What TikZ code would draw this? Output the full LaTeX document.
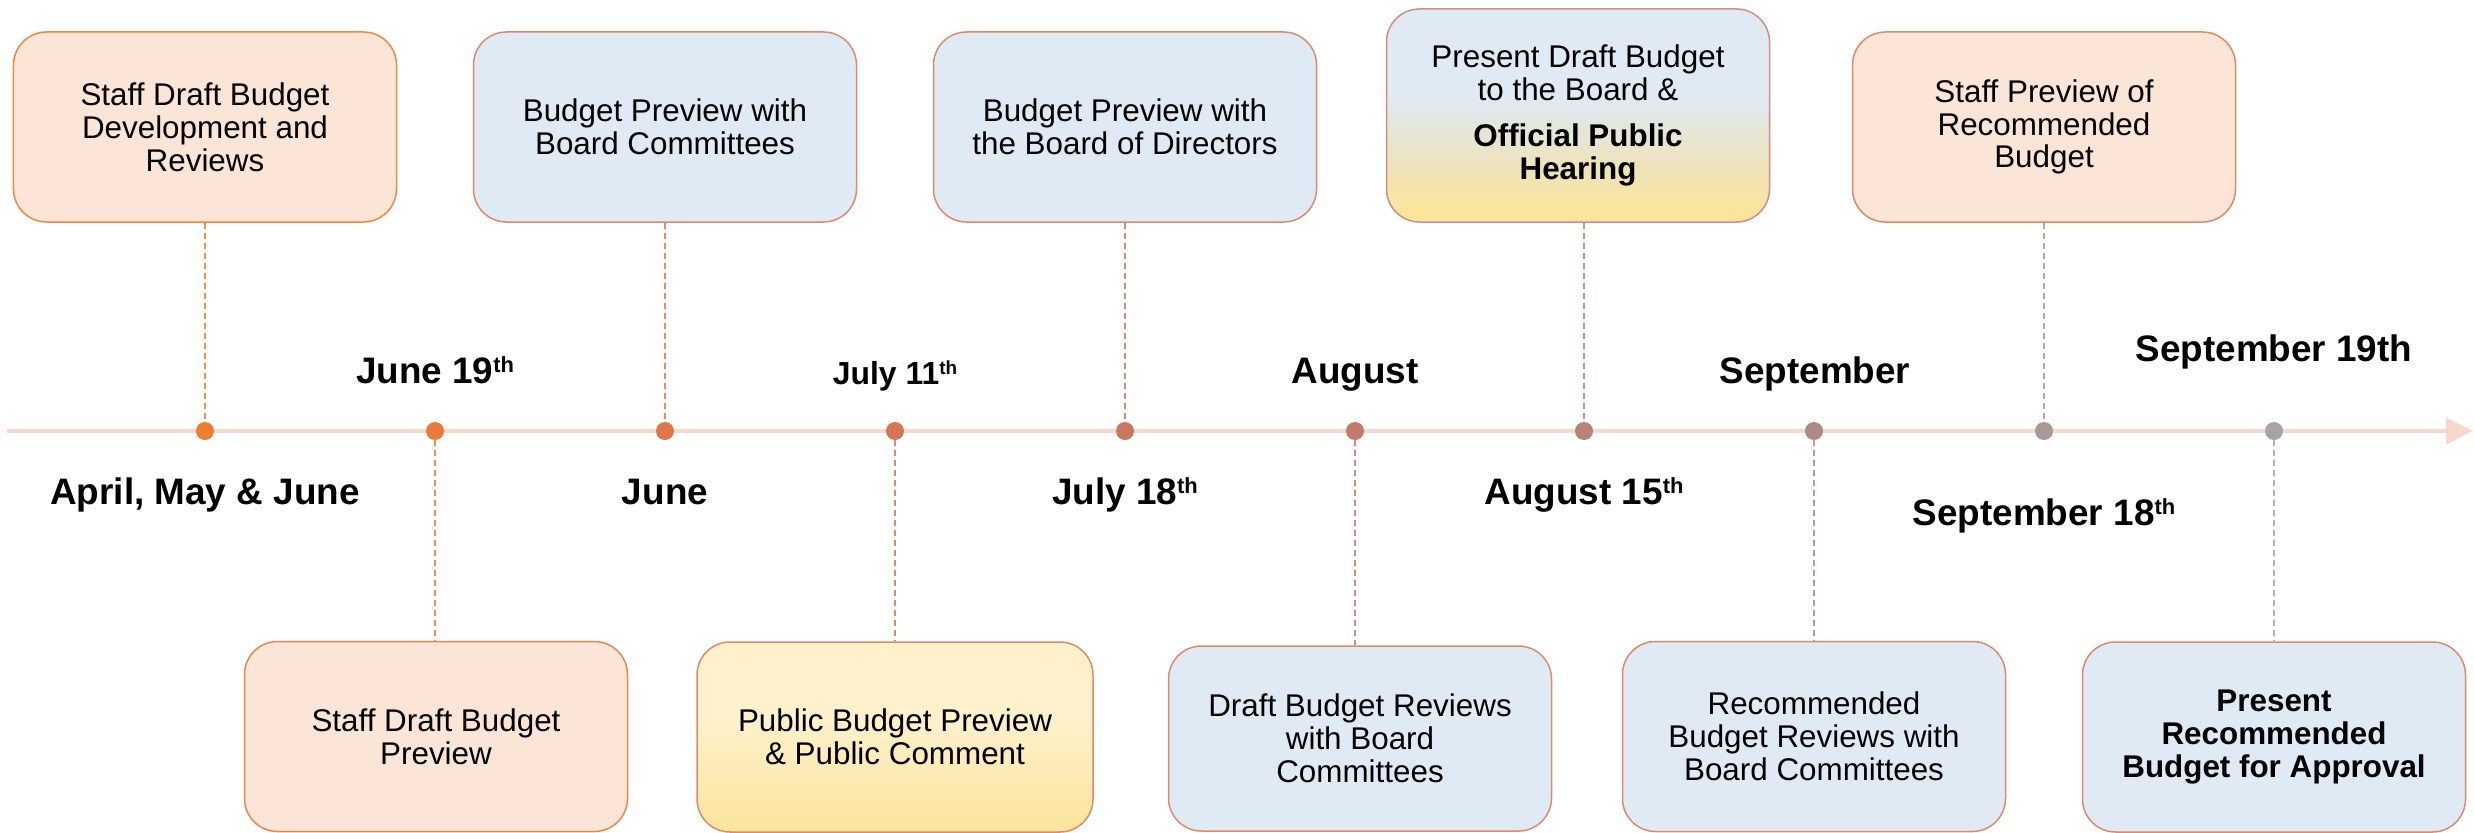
\documentclass[tikz,border=0pt]{standalone}
\usepackage{fontspec}
\setmainfont{Liberation Sans}
\usetikzlibrary{arrows.meta}
\definecolor{peachfill}{HTML}{FAE5D7}
\definecolor{bluefill}{HTML}{DFEAF5}
\definecolor{yeltop}{HTML}{FFF1CC}
\definecolor{yelbot}{HTML}{FBE49C}
\definecolor{mixA}{HTML}{E6E5D8}
\definecolor{mixB}{HTML}{EFE3B8}
\definecolor{linecol}{HTML}{F8D8CC}
\definecolor{bdA}{HTML}{EE8843}
\definecolor{bdB}{HTML}{E9864E}
\definecolor{bdC}{HTML}{DE8A6A}
\definecolor{bdD}{HTML}{D28C80}
\definecolor{dA}{HTML}{ED7D31}
\definecolor{dB}{HTML}{E97A3A}
\definecolor{dC}{HTML}{DF774A}
\definecolor{dD}{HTML}{D57555}
\definecolor{dE}{HTML}{CB775E}
\definecolor{dF}{HTML}{C27A6C}
\definecolor{dG}{HTML}{B88278}
\definecolor{dH}{HTML}{B08884}
\definecolor{dI}{HTML}{A99996}
\definecolor{dJ}{HTML}{A5A5A5}
\pgfdeclareverticalshading{bluyel}{100bp}{color(0bp)=(yelbot); color(25bp)=(yelbot); color(28bp)=(yelbot); color(37bp)=(mixB); color(46.5bp)=(mixA); color(54bp)=(bluefill); color(100bp)=(bluefill)}
\pgfdeclareverticalshading{yelgrad}{100bp}{color(0bp)=(yelbot); color(25bp)=(yelbot); color(55bp)=(yeltop); color(100bp)=(yeltop)}
\newcommand{\supx}[1]{\raisebox{11bp}{\fontsize{22}{22}\selectfont #1}}
\newcommand{\supy}[1]{\raisebox{9.5bp}{\fontsize{19}{19}\selectfont #1}}
\tikzset{
  evbox/.style={draw, line width=1.5bp, rounded corners=33bp, minimum width=383bp,
    minimum height=190bp, align=center, inner sep=0pt,
    font=\fontsize{31.5}{33}\selectfont},
  peachbox/.style={evbox, fill=peachfill, draw=bdC},
  bluebox/.style={evbox, fill=bluefill, draw=bdC},
  dotnode/.style={circle, inner sep=0pt, minimum size=18bp, fill=#1, draw=none},
  dateA/.style={anchor=base, inner sep=0pt, font=\fontsize{37}{40}\selectfont\bfseries},
  dateB/.style={anchor=base, inner sep=0pt, font=\fontsize{32}{35}\selectfont\bfseries},
  conn/.style={draw=#1, line width=1.6bp, dash pattern=on 6bp off 4bp},
}
\begin{document}
\begin{tikzpicture}[x=1bp,y=-1bp]
\useasboundingbox (0,0) rectangle (2474,832);
% timeline
\coordinate (tls) at (7,431);
\coordinate (tle) at (2473,431);
\draw[linecol, line width=4bp, -{Triangle[length=27bp,width=26bp]}] (tls) -- (tle);
% dots
\node[dotnode=dA] (d1) at (205,431) {};
\node[dotnode=dB] (d2) at (435,431) {};
\node[dotnode=dC] (d3) at (665,431) {};
\node[dotnode=dD] (d4) at (895,431) {};
\node[dotnode=dE] (d5) at (1125,431) {};
\node[dotnode=dF] (d6) at (1355,431) {};
\node[dotnode=dG] (d7) at (1584,431) {};
\node[dotnode=dH] (d8) at (1814,431) {};
\node[dotnode=dI] (d9) at (2044,431) {};
\node[dotnode=dJ] (d10) at (2274,431) {};
% boxes top
\node[peachbox, draw=bdA] (b1) at (205,127) {Staff Draft Budget\\Development and\\Reviews};
\node[bluebox] (b3) at (665,127) {Budget Preview with\\Board Committees};
\node[bluebox] (b5) at (1125,127) {Budget Preview with\\the Board of Directors};
\node[evbox, draw=bdD, minimum height=213bp, shading=bluyel] (b7) at (1578,115.5)
  {Present Draft Budget\\to the Board \&\\[14bp]\textbf{Official Public}\\\textbf{Hearing}};
\node[peachbox] (b9) at (2044,127) {Staff Preview of\\Recommended\\Budget};
% boxes bottom
\node[peachbox, draw=bdB] (b2) at (436,736.5) {Staff Draft Budget\\Preview};
\node[evbox, draw=bdC, minimum width=396bp, shading=yelgrad] (b4) at (895,737) {Public Budget Preview\\\& Public Comment};
\node[bluebox, minimum height=185bp] (b6) at (1360,738.5) {Draft Budget Reviews\\with Board\\Committees};
\node[bluebox] (b8) at (1814,736.5) {Recommended\\Budget Reviews with\\Board Committees};
\node[bluebox] (b10) at (2274,737) {\textbf{Present}\\\textbf{Recommended}\\\textbf{Budget for Approval}};
% connectors
\draw[conn=dA!85!white] (d1.north |- b1.south) -- (d1.north);
\draw[conn=dB!85!white] (d2.south) -- (d2.south |- b2.north);
\draw[conn=dC!85!white] (d3.north |- b3.south) -- (d3.north);
\draw[conn=dD!85!white] (d4.south) -- (d4.south |- b4.north);
\draw[conn=dE!85!white] (d5.north |- b5.south) -- (d5.north);
\draw[conn=dF!85!white] (d6.south) -- (d6.south |- b6.north);
\draw[conn=dG!85!white] (d7.north |- b7.south) -- (d7.north);
\draw[conn=dH!85!white] (d8.south) -- (d8.south |- b8.north);
\draw[conn=dI!85!white] (d9.north |- b9.south) -- (d9.north);
\draw[conn=dJ!85!white] (d10.south) -- (d10.south |- b10.north);
% date labels
\node[dateA] (l1) at (205,504) {April, May \& June};
\node[dateA] (l2) at (435,383) {June 19\supx{th}};
\node[dateA] (l3) at (665,504) {June};
\node[dateB] (l4) at (895,384) {July 11\supy{th}};
\node[dateA] (l5) at (1125,504) {July 18\supx{th}};
\node[dateA] (l6) at (1355,383) {August};
\node[dateA] (l7) at (1584,504) {August 15\supx{th}};
\node[dateA] (l8) at (1815,383) {September};
\node[dateA] (l9) at (2044,525) {September 18\supx{th}};
\node[dateA] (l10) at (2274,361) {September 19th};
\end{tikzpicture}
\end{document}
